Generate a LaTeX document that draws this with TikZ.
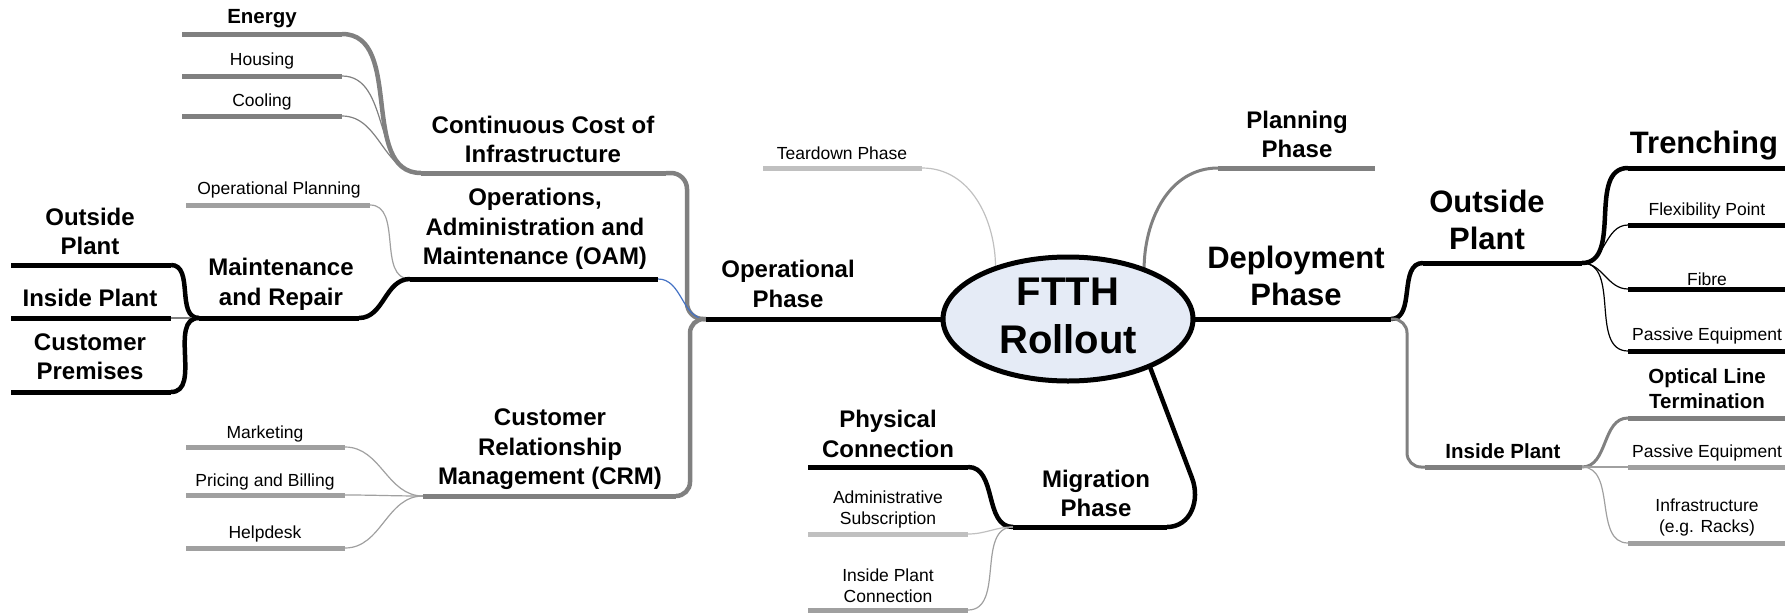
\documentclass[tikz,border=0pt]{standalone}
\usepackage{fontspec}
\setmainfont{Liberation Sans}
\usetikzlibrary{shapes.geometric}
\definecolor{gA}{HTML}{808080}
\definecolor{gB}{HTML}{A0A0A0}
\definecolor{gC}{HTML}{C0C0C0}
\definecolor{lnblue}{HTML}{4472C4}
\definecolor{ellfill}{HTML}{E5EBF6}
\tikzset{
  lbl/.style={align=center, inner sep=0pt},
  tsmall/.style={lbl, font=\fontsize{17.5}{21}\selectfont},
  tmid/.style={lbl, font=\fontsize{20.5}{25}\selectfont\bfseries},
  tbig/.style={lbl, font=\fontsize{24}{29.5}\selectfont\bfseries},
  tlarge/.style={lbl, font=\fontsize{31}{37}\selectfont\bfseries},
  thuge/.style={lbl, font=\fontsize{40}{48}\selectfont\bfseries},
  bar/.style={line width=5pt},
  thk/.style={line width=4.5pt},
  med/.style={line width=3pt},
  thn/.style={line width=1.2pt},
}
\begin{document}
\begin{tikzpicture}[x=1pt,y=-1pt]
\useasboundingbox (0,0) rectangle (1785,613);

% ---------- coordinates ----------
\coordinate (J) at (706,319);
\coordinate (energyL) at (182,34);   \coordinate (energyR) at (342,34);
\coordinate (housingL) at (182,76);  \coordinate (housingR) at (342,76);
\coordinate (coolingL) at (182,116); \coordinate (coolingR) at (342,116);
\coordinate (cciL) at (421,173);     \coordinate (cciR) at (666,173);
\coordinate (opplanL) at (186,205);  \coordinate (opplanR) at (370,205);
\coordinate (oamL) at (410,279);     \coordinate (oamR) at (658,279);
\coordinate (maintL) at (199,318);   \coordinate (maintR) at (359,318);
\coordinate (loutL) at (11,265);     \coordinate (loutR) at (171,265);
\coordinate (linL) at (11,318);      \coordinate (linR) at (171,318);
\coordinate (lcustL) at (11,392);    \coordinate (lcustR) at (171,392);
\coordinate (mktL) at (186,447);     \coordinate (mktR) at (345,447);
\coordinate (priceL) at (186,495);   \coordinate (priceR) at (345,495);
\coordinate (helpL) at (186,548);    \coordinate (helpR) at (345,548);
\coordinate (crmL) at (423,496);     \coordinate (crmR) at (676,496);
\coordinate (tearL) at (763,168);    \coordinate (tearR) at (922,168);
\coordinate (planL) at (1218,168);   \coordinate (planR) at (1375,168);
\coordinate (deployR) at (1391,319);
\coordinate (routL) at (1423,263);   \coordinate (routR) at (1582,263);
\coordinate (rinL) at (1425,467);    \coordinate (rinR) at (1582,467);
\coordinate (trenchL) at (1628,168); \coordinate (trenchR) at (1790,168);
\coordinate (flexL) at (1628,225);   \coordinate (flexR) at (1790,225);
\coordinate (fibreL) at (1628,289);  \coordinate (fibreR) at (1790,289);
\coordinate (pasAL) at (1628,351);   \coordinate (pasAR) at (1790,351);
\coordinate (oltL) at (1628,418);    \coordinate (oltR) at (1790,418);
\coordinate (pasBL) at (1628,467);   \coordinate (pasBR) at (1790,467);
\coordinate (infraL) at (1628,543);  \coordinate (infraR) at (1790,543);
\coordinate (migL) at (1013,527);    \coordinate (migR) at (1167,527);
\coordinate (migbend) at (1192,478);
\coordinate (physL) at (808,467);    \coordinate (physR) at (968,467);
\coordinate (adminL) at (808,534);   \coordinate (adminR) at (968,534);
\coordinate (ipcL) at (808,610);     \coordinate (ipcR) at (968,610);

% ---------- central ellipse ----------
\node[ellipse, minimum width=250, minimum height=124, inner sep=0pt] (ftth) at (1068,319) {};

% ---------- connectors ----------
\draw[thk, gA] (energyR) to[out=0,in=180] (cciL);
\draw[thn, gA] (housingR) to[out=0,in=180] (cciL);
\draw[thn, gA] (coolingR) to[out=0,in=180] (cciL);
\draw[thk, gA, rounded corners=16] (cciR) -- ++(21,0) |- (J);
\draw[thn, gB] (opplanR) to[out=0,in=180] (oamL);
\draw[thn, lnblue] (oamR) to[out=0,in=180] (J);
\draw[thk] (loutR) to[out=0,in=180] (maintL);
\draw[thn, gA] (linR) to[out=0,in=180] (maintL);
\draw[thk] (lcustR) to[out=0,in=180] (maintL);
\draw[thk] (maintR) to[out=0,in=180] (oamL);
\draw[thn, gB] (mktR) to[out=0,in=180] (crmL);
\draw[thn, gB] (priceR) to[out=0,in=180] (crmL);
\draw[thn, gB] (helpR) to[out=0,in=180] (crmL);
\draw[thk, gA, rounded corners=14] (crmR) -- ++(14,0) |- (J);
\draw[thn, gC] (tearR) to[out=0,in=90] (ftth.145);
\draw[med, gA] (ftth.33) to[out=90,in=180] (planL);
\draw[thk] (deployR) to[out=0,in=180] (routL);
\draw[med, gA, rounded corners=14] (deployR) -- ++(16,0) |- (rinL);
\draw[thk] (routR) to[out=0,in=180] (trenchL);
\draw[thn] (routR) to[out=0,in=180] (flexL);
\draw[thn] (routR) to[out=0,in=180] (fibreL);
\draw[thn] (routR) to[out=0,in=180] (pasAL);
\draw[med, gA] (rinR) to[out=0,in=180] (oltL);
\draw[thn, gB] (rinR) to[out=0,in=180] (pasBL);
\draw[thn, gB] (rinR) to[out=0,in=180] (infraL);
\draw[thk] (ftth.-30) -- (migbend) to[out=-69,in=0,looseness=1.1] (migR);
\draw[thk] (physR) to[out=0,in=180] (migL);
\draw[thn, gC] (adminR) to[out=0,in=180] (migL);
\draw[thn, gB] (ipcR) to[out=0,in=180] (migL);

% ---------- bars ----------
\draw[bar, gA] (energyL) -- (energyR);
\draw[bar, gA] (housingL) -- (housingR);
\draw[bar, gA] (coolingL) -- (coolingR);
\draw[bar, gA] (cciL) -- (cciR);
\draw[bar, gB] (opplanL) -- (opplanR);
\draw[bar] (oamL) -- (oamR);
\draw[bar] (maintL) -- (maintR);
\draw[bar] (loutL) -- (loutR);
\draw[bar] (linL) -- (linR);
\draw[bar] (lcustL) -- (lcustR);
\draw[bar, gB] (mktL) -- (mktR);
\draw[bar, gB] (priceL) -- (priceR);
\draw[bar, gB] (helpL) -- (helpR);
\draw[bar, gA] (crmL) -- (crmR);
\draw[bar] (J) -- (ftth.west);
\draw[bar, gC] (tearL) -- (tearR);
\draw[bar, gA] (planL) -- (planR);
\draw[bar] (ftth.east) -- (deployR);
\draw[bar] (routL) -- (routR);
\draw[bar, gA] (rinL) -- (rinR);
\draw[bar] (trenchL) -- (trenchR);
\draw[bar] (flexL) -- (flexR);
\draw[bar] (fibreL) -- (fibreR);
\draw[bar] (pasAL) -- (pasAR);
\draw[bar, gA] (oltL) -- (oltR);
\draw[bar, gB] (pasBL) -- (pasBR);
\draw[bar, gB] (infraL) -- (infraR);
\draw[bar] (migL) -- (migR);
\draw[bar] (physL) -- (physR);
\draw[bar, gC] (adminL) -- (adminR);
\draw[bar, gB] (ipcL) -- (ipcR);

% ellipse drawn on top
\draw[line width=5pt, fill=ellfill] (ftth.center) ellipse [x radius=125, y radius=62];

% ---------- labels ----------
\node[thuge] (ftthtext) at (1068,316) {FTTH\\Rollout};
\node[tmid] (energy) at (262,19) {Energy};
\node[tsmall] (housing) at (262,61) {Housing};
\node[tsmall] (cooling) at (262,102) {Cooling};
\node[tbig] (cci) at (543,139.5) {Continuous Cost of\\Infrastructure};
\node[tsmall] (opplan) at (279,190) {Operational Planning};
\node[tbig] (oam) at (535,229) {Operations,\\Administration and\\Maintenance (OAM)};
\node[tbig] (maint) at (281,284.5) {Maintenance\\and Repair};
\node[tbig] (lout) at (90,231.5) {Outside\\Plant};
\node[tbig] (lin) at (90,298) {Inside Plant};
\node[tbig] (lcust) at (90,356.5) {Customer\\Premises};
\node[tsmall] (mkt) at (265,434) {Marketing};
\node[tsmall] (price) at (265,482) {Pricing and Billing};
\node[tsmall] (help) at (265,534) {Helpdesk};
\node[tbig] (crm) at (550,449.5) {Customer\\Relationship\\Management (CRM)};
\node[tbig] (opph) at (788,284) {Operational\\Phase};
\node[tsmall] (tear) at (842,153) {Teardown Phase};
\node[tbig] (plan) at (1297,134.5) {Planning\\Phase};
\node[tlarge] (deploy) at (1296,276) {Deployment\\Phase};
\node[tlarge] (rout) at (1487,220) {Outside\\Plant};
\node[tmid] (rin) at (1503,451) {Inside Plant};
\node[tlarge] (trench) at (1704,146) {Trenching};
\node[tsmall] (flex) at (1707,211) {Flexibility Point};
\node[tsmall] (fibre) at (1707,279) {Fibre};
\node[tsmall] (pasA) at (1707,336) {Passive Equipment};
\node[tmid] (olt) at (1707,388.5) {Optical Line\\Termination};
\node[tsmall] (pasB) at (1707,453) {Passive Equipment};
\node[tsmall] (infra) at (1707,517.5) {Infrastructure\\(e.g. Racks)};
\node[tbig] (mig) at (1096,493.5) {Migration\\Phase};
\node[tbig] (phys) at (888,434) {Physical\\Connection};
\node[tsmall] (admin) at (888,509.5) {Administrative\\Subscription};
\node[tsmall] (ipc) at (888,585.5) {Inside Plant\\Connection};
\end{tikzpicture}
\end{document}
